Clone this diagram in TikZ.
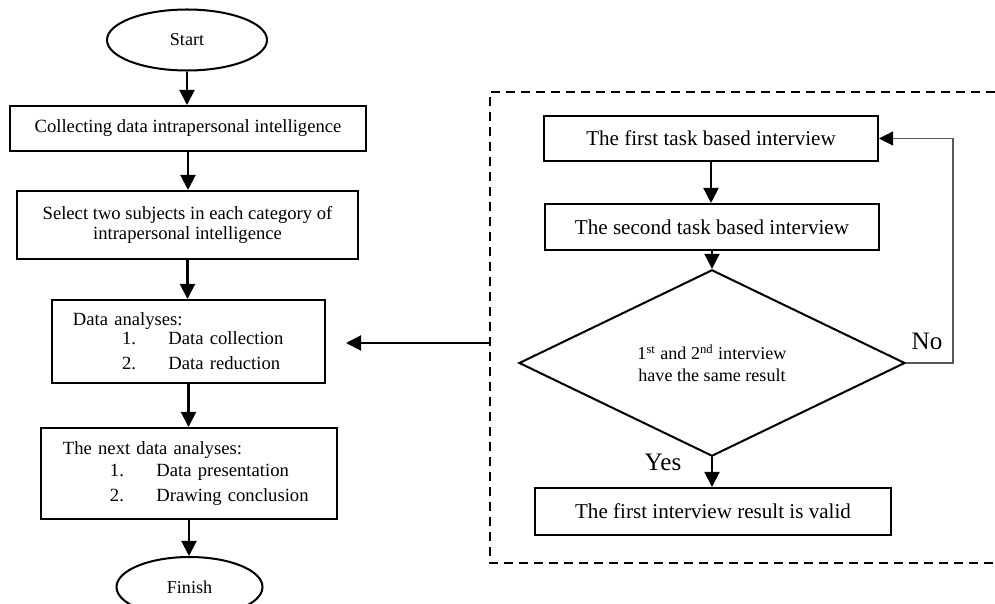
\documentclass[tikz,border=0pt]{standalone}
\usepackage{fontspec}
\setmainfont{Liberation Serif}
\usetikzlibrary{shapes.geometric,arrows.meta}

\newcommand{\listline}[3]{\hspace*{#1}\makebox[9.3mm][l]{#2}#3}

\begin{document}
\begin{tikzpicture}[x=0.2mm, y=-0.2mm, line width=1.15pt,
        every node/.style={inner sep=0pt, font=\fontsize{10.6}{12.6}\selectfont},
        stepbox/.style={draw, rectangle},
        endbox/.style={draw, ellipse, font=\fontsize{10.3}{12}\selectfont},
        taskbox/.style={draw, rectangle, minimum width=66.8mm, font=\fontsize{12}{14}\selectfont},
        arr/.style={-{Triangle[length=3mm,width=3mm]}},
        label/.style={font=\fontsize{14.3}{16}\selectfont}]
    \useasboundingbox (0,0) rectangle (995,604);

    % main flow
    \node[endbox, minimum width=32mm, minimum height=12.2mm] (start) at (187,40) {Start};
    \node[stepbox, minimum width=71.2mm, minimum height=9mm] (collect) at (188,128.5) {Collecting data intrapersonal intelligence};
    \node[stepbox, minimum width=68.2mm, minimum height=13.6mm, align=center,
        font=\fontsize{10.6}{11.4}\selectfont] (select) at (187.5,225)
        {Select two subjects in each category of\\intrapersonal intelligence};
    \node[stepbox, minimum height=16.6mm, inner xsep=4.2mm, text width=46.2mm, align=left] (analyses) at (188.5,341.5)
        {Data analyses:\\[-0.6mm] \listline{9.8mm}{1.}{Data collection}\\[0.6mm] \listline{9.8mm}{2.}{Data reduction}};
    \node[stepbox, minimum height=18.2mm, inner xsep=4.4mm, text width=50.4mm, align=left] (next) at (189,473.5)
        {The next data analyses:\\ \listline{9.4mm}{1.}{Data presentation}\\[0.6mm] \listline{9.4mm}{2.}{Drawing conclusion}};
    \node[endbox, minimum width=29.2mm, minimum height=12mm] (finish) at (189.5,587) {Finish};

    \draw[arr] (start.south) -- (start.south |- collect.north);
    \draw[arr] (collect.south) -- (collect.south |- select.north);
    \draw[arr] (select.south) -- (select.south |- analyses.north);
    \draw[arr] (analyses.south) -- (analyses.south |- next.north);
    \draw[arr] (next.south) -- (next.south |- finish.north);

    % validation part
    \draw[dashed, dash pattern=on 1.8mm off 1.2mm] (1010,92) -- (490,92) -- (490,563) -- (1010,563);
    \coordinate (frame) at (490,343);

    \node[taskbox, minimum height=9mm] (first) at (711,138.5) {The first task based interview};
    \node[taskbox, minimum height=9.2mm] (second) at (712,227) {The second task based interview};
    \node[draw, diamond, minimum width=77.2mm, minimum height=28mm, align=center,
        font=\fontsize{10.3}{12.5}\selectfont] (same) at (712,363)
        {1\textsuperscript{st} and 2\textsuperscript{nd} interview\\have the same result};
    \node[taskbox, minimum width=71.2mm, minimum height=9.4mm] (valid) at (713,511.5) {The first interview result is valid};
    \coordinate (back) at (953,363);

    \node[label] (yes) at (663,462) {Yes};
    \node[label] (no) at (927,341) {No};

    \draw[arr] (first.south) -- (first.south |- second.north);
    \draw[arr] (second.south) -- (second.south |- same.north);
    \draw[arr] (same.south) -- (same.south |- valid.north);
    \draw[-{Triangle[length=2.8mm,width=2.8mm,color=black]}, line width=0.6pt, draw=black!65]
        (same.east) -- (back) |- (first.east);
    \draw[arr] (frame) -- ([xshift=4mm]analyses.east |- frame);
\end{tikzpicture}
\end{document}
